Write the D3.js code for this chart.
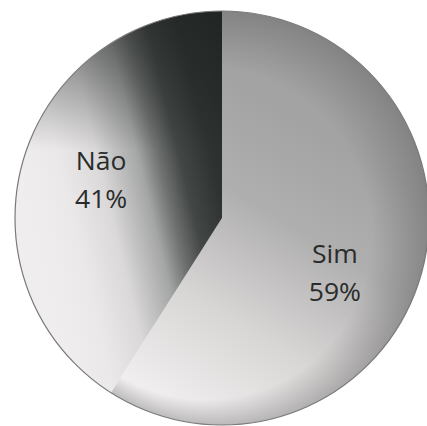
<!DOCTYPE html>
<html>
<head>
<meta charset="utf-8">
<script src="https://cdn.jsdelivr.net/npm/d3@7"></script>
<style>
  html, body { margin: 0; padding: 0; background: #ffffff; }
  svg { display: block; }
</style>
</head>
<body>
<script>
// Survey answers
const categories = ["Sim", "Não"];
const values = [59, 41];
const percentLabels = ["59%", "41%"];

const width = 427, height = 426;
const cx = 222, cy = 218, radius = 207;

// label placement along each slice's mid angle, with small nudges
const labelLayout = {
  "Sim": { r: 128, dx: -10, dy: 19 },
  "Não": { r: 128, dx: 2, dy: -2 }
};

const svg = d3.select("body").append("svg")
  .attr("width", width)
  .attr("height", height);

const defs = svg.append("defs");

// gradient coordinates are given in page pixels and shifted to the pie centre
function linGrad(id, p1, p2, stops) {
  const lg = defs.append("linearGradient")
    .attr("id", id)
    .attr("gradientUnits", "userSpaceOnUse")
    .attr("x1", p1[0] - cx).attr("y1", p1[1] - cy)
    .attr("x2", p2[0] - cx).attr("y2", p2[1] - cy);
  stops.forEach(([o, c]) => lg.append("stop").attr("offset", o).attr("stop-color", c));
}

// Sim: pale at the lower left, mid grey towards the top right
linGrad("grad-sim", [170, 410], [330, 140],
  [[0, "#f1efef"], [0.35, "#d8d5d5"], [0.7, "#b0afaf"], [1, "#a3a3a3"]]);

// Não: dark along the vertical edge, pale towards the left
linGrad("grad-nao", [-19, 5], [209, -50],
  [[0, "#efeded"], [0.17, "#eae8e8"], [0.33, "#dad8d8"], [0.5, "#a4a5a5"],
   [0.58, "#707372"], [0.67, "#434746"], [0.8, "#2e3332"], [1, "#252a29"]]);

// Não: extra shade that deepens towards the top of the disc
linGrad("grad-nao-top", [0, 11], [0, 150],
  [[0, "rgba(30,34,33,0.6)"], [0.5, "rgba(30,34,33,0.3)"], [1, "rgba(30,34,33,0)"]]);

// soft darkening towards the upper-right rim of the Sim slice
const rim = defs.append("radialGradient")
  .attr("id", "grad-rim")
  .attr("gradientUnits", "userSpaceOnUse")
  .attr("cx", 0).attr("cy", 0).attr("r", radius)
  .attr("fx", -80).attr("fy", 80);
[[0, "rgba(40,40,40,0)"], [0.8, "rgba(40,40,40,0)"], [1, "rgba(40,40,40,0.26)"]]
  .forEach(([o, c]) => rim.append("stop").attr("offset", o).attr("stop-color", c));

const fills = { "Sim": "url(#grad-sim)", "Não": "url(#grad-nao)" };
const overlays = { "Sim": "url(#grad-rim)", "Não": "url(#grad-nao-top)" };

const data = categories.map((c, i) => ({ name: c, value: values[i], label: percentLabels[i] }));

const pie = d3.pie().sort(null).value(d => d.value);
const arc = d3.arc().innerRadius(0).outerRadius(radius);

const g = svg.append("g").attr("transform", `translate(${cx},${cy})`);

const arcs = pie(data);

g.selectAll("path.slice")
  .data(arcs)
  .join("path")
  .attr("class", "slice")
  .attr("d", arc)
  .attr("fill", d => fills[d.data.name]);

g.selectAll("path.shade")
  .data(arcs)
  .join("path")
  .attr("class", "shade")
  .attr("d", arc)
  .attr("fill", d => overlays[d.data.name]);

// thin rim around the disc
g.append("circle")
  .attr("r", radius)
  .attr("fill", "none")
  .attr("stroke", "#7a7a7a")
  .attr("stroke-width", 1.2);

const labels = g.selectAll("g.label")
  .data(arcs)
  .join("g")
  .attr("class", "label")
  .attr("transform", d => {
    const L = labelLayout[d.data.name];
    const a = (d.startAngle + d.endAngle) / 2;
    const x = Math.sin(a) * L.r + L.dx;
    const y = -Math.cos(a) * L.r + L.dy;
    return `translate(${x},${y})`;
  });

labels.each(function(d) {
  const t = d3.select(this).append("text")
    .attr("text-anchor", "middle")
    .attr("font-family", "'Open Sans', 'Liberation Sans', sans-serif")
    .attr("font-size", 25)
    .attr("fill", "#2a2c2c")
    .attr("transform", "scale(1.06,1)");
  t.append("tspan").attr("x", 0).attr("y", -10).text(d.data.name);
  t.append("tspan").attr("x", 0).attr("y", 28).text(d.data.label);
});
</script>
</body>
</html>
